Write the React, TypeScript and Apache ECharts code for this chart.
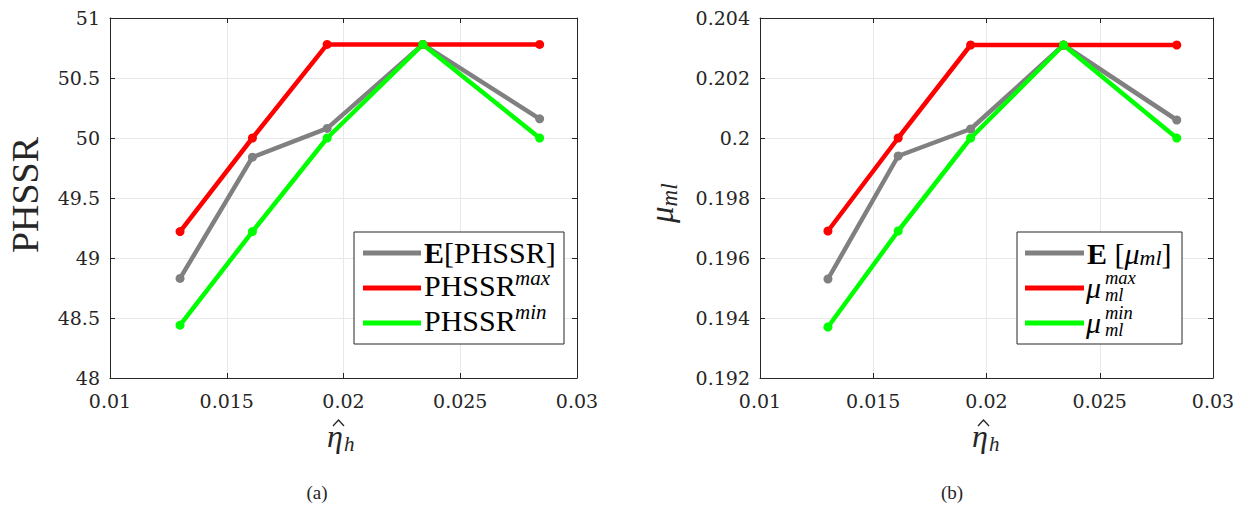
import React, { useEffect, useRef } from "react";
import * as echarts from "echarts";

// ---- data ----
const etaH = [0.013, 0.0161, 0.0193, 0.0234, 0.0284];
const phssrMean = [48.83, 49.84, 50.08, 50.78, 50.16];
const phssrMax = [49.22, 50.0, 50.78, 50.78, 50.78];
const phssrMin = [48.44, 49.22, 50.0, 50.78, 50.0];
const muMean = [0.1953, 0.1994, 0.2003, 0.2031, 0.2006];
const muMax = [0.1969, 0.2, 0.2031, 0.2031, 0.2031];
const muMin = [0.1937, 0.1969, 0.2, 0.2031, 0.2];

const xTickLabels = ["0.01", "0.015", "0.02", "0.025", "0.03"];
const leftTickLabels = ["48", "48.5", "49", "49.5", "50", "50.5", "51"];
const rightTickLabels = ["0.192", "0.194", "0.196", "0.198", "0.2", "0.202", "0.204"];

const GRAY = "#808080";
const RED = "#ff0000";
const GREEN = "#00ff00";
const AXIS = "#262626";
const GRID = "#e8e8e8";
const SERIF = "Liberation Serif, DejaVu Serif, serif";
const TICKFONT = "DejaVu Serif, Liberation Serif, serif";

const pairs = (ys: number[]) => etaH.map((x, i) => [x, ys[i]]);

function labelFor(labels: string[], min: number, step: number) {
  return (v: number) => labels[Math.round((v - min) / step)] ?? "";
}

export default function App() {
  const ref = useRef<HTMLDivElement>(null);
  useEffect(() => {
    if (!ref.current) return;
    const chart = echarts.init(ref.current, undefined, { renderer: "svg" });

    const mkX = (gridIndex: number, pos: "bottom" | "top") => ({
      type: "value",
      gridIndex,
      position: pos,
      min: 0.01,
      max: 0.03,
      interval: 0.005,
      axisLine: { show: true, onZero: false, lineStyle: { color: AXIS, width: 1 } },
      axisTick: { show: true, inside: true, length: 5, lineStyle: { color: AXIS } },
      axisLabel: {
        show: pos === "bottom",
        formatter: labelFor(xTickLabels, 0.01, 0.005),
        color: "#262626",
        fontFamily: TICKFONT,
        fontSize: 19,
        margin: 13,
      },
      splitLine: { show: pos === "bottom", lineStyle: { color: GRID, width: 1 } },
    });

    const mkY = (
      gridIndex: number,
      pos: "left" | "right",
      min: number,
      max: number,
      step: number,
      labels: string[]
    ) => ({
      type: "value",
      gridIndex,
      position: pos,
      min,
      max,
      interval: step,
      axisLine: { show: true, onZero: false, lineStyle: { color: AXIS, width: 1 } },
      axisTick: { show: true, inside: true, length: 5, lineStyle: { color: AXIS } },
      axisLabel: {
        show: pos === "left",
        formatter: labelFor(labels, min, step),
        color: "#262626",
        fontFamily: TICKFONT,
        fontSize: 19,
        margin: 10,
      },
      splitLine: { show: pos === "left", lineStyle: { color: GRID, width: 1 } },
    });

    const mkSeries = (name: string, data: number[][], color: string, idx: number) => ({
      type: "line",
      name,
      xAxisIndex: idx * 2,
      yAxisIndex: idx * 2,
      data,
      symbol: "circle",
      symbolSize: 9,
      showSymbol: true,
      lineStyle: { color, width: 4.5 },
      itemStyle: { color },
      emphasis: { disabled: true },
    });

    const txt = (
      x: number,
      y: number,
      text: string,
      fontSize: number,
      opts: any = {},
      extra: any = {}
    ) => ({
      type: "text",
      x,
      y,
      z: 100,
      ...extra,
      style: {
        text,
        fontFamily: SERIF,
        fontSize,
        fill: "#000",
        align: "left",
        verticalAlign: "middle",
        ...opts,
      },
    });

    const it = (size: number, extra: any = {}) => ({
      fontFamily: SERIF,
      fontStyle: "italic",
      fontSize: size,
      ...extra,
    });

    const legendLines = (x1: number, x2: number) =>
      [
        [253, GRAY],
        [288, RED],
        [323, GREEN],
      ].map(([y, c]) => ({
        type: "line",
        z: 100,
        shape: { x1, y1: y as number, x2, y2: y as number },
        style: { stroke: c as string, lineWidth: 5 },
      }));

    // x-axis title: eta with a hat, subscript h
    const etaTitle = (x: number) => [
      txt(x, 436, "{e|η}{s|h}", 32, {
        fill: "#262626",
        rich: {
          e: it(32, { fill: "#262626" }),
          s: it(21, { fill: "#262626", padding: [16, 0, 0, 1] }),
        },
      }),
      {
        type: "polyline",
        z: 100,
        shape: { points: [[x + 6, 426], [x + 11.5, 420], [x + 17, 426]] },
        style: { stroke: "#262626", lineWidth: 1.3, fill: "none" },
      },
    ];

    const option: any = {
      animation: false,
      backgroundColor: "#ffffff",
      grid: [
        { left: 110, top: 18, width: 467, height: 360 },
        { left: 760, top: 18, width: 453, height: 360 },
      ],
      xAxis: [mkX(0, "bottom"), mkX(0, "top"), mkX(1, "bottom"), mkX(1, "top")],
      yAxis: [
        mkY(0, "left", 48, 51, 0.5, leftTickLabels),
        mkY(0, "right", 48, 51, 0.5, leftTickLabels),
        mkY(1, "left", 0.192, 0.204, 0.002, rightTickLabels),
        mkY(1, "right", 0.192, 0.204, 0.002, rightTickLabels),
      ],
      series: [
        mkSeries("E[PHSSR]", pairs(phssrMean), GRAY, 0),
        mkSeries("PHSSR max", pairs(phssrMax), RED, 0),
        mkSeries("PHSSR min", pairs(phssrMin), GREEN, 0),
        mkSeries("E[mu_ml]", pairs(muMean), GRAY, 1),
        mkSeries("mu_ml max", pairs(muMax), RED, 1),
        mkSeries("mu_ml min", pairs(muMin), GREEN, 1),
      ],
      graphic: [
        // axis titles
        txt(25, 195, "PHSSR", 38, { align: "center", fill: "#262626" }, { rotation: Math.PI / 2 }),
        txt(
          662,
          223,
          "{m|μ}{s|ml}",
          33,
          {
            fill: "#262626",
            rich: {
              m: it(33, { fill: "#262626" }),
              s: it(23, { fill: "#262626", padding: [14, 0, 0, 0] }),
            },
          },
          { rotation: Math.PI / 2 }
        ),
        ...etaTitle(327),
        ...etaTitle(972),
        // left legend
        {
          type: "rect",
          z: 99,
          shape: { x: 354, y: 232, width: 210, height: 112 },
          style: { fill: "#fff", stroke: AXIS, lineWidth: 1 },
        },
        ...legendLines(363, 421),
        txt(424, 252, "{b|E}[PHSSR]", 30, {
          rich: { b: { fontFamily: SERIF, fontWeight: "bold", fontSize: 30, fill: "#000" } },
        }),
        txt(424, 285, "PHSSR", 30),
        txt(515, 277.5, "max", 21, { fontStyle: "italic" }),
        txt(424, 320, "PHSSR", 30),
        txt(515, 312, "min", 21, { fontStyle: "italic" }),
        // right legend
        {
          type: "rect",
          z: 99,
          shape: { x: 1017, y: 232, width: 165, height: 112 },
          style: { fill: "#fff", stroke: AXIS, lineWidth: 1 },
        },
        ...legendLines(1025, 1084),
        txt(1087, 253, "{b|E} [{m|μ}{s|ml}]", 30, {
          rich: {
            b: { fontFamily: SERIF, fontWeight: "bold", fontSize: 30 },
            m: it(30),
            s: it(22, { padding: [8, 0, 0, 0] }),
          },
        }),
        txt(1086, 287, "μ", 30, { fontStyle: "italic" }),
        txt(1105, 286.5, "max\nml", 18.5, { fontStyle: "italic", lineHeight: 17.5 }),
        txt(1086, 322, "μ", 30, { fontStyle: "italic" }),
        txt(1105, 321.5, "min\nml", 18.5, { fontStyle: "italic", lineHeight: 17.5 }),
        // sub-figure captions
        txt(317, 492, "(a)", 19, { align: "center", fill: "#262626" }),
        txt(952, 492, "(b)", 19, { align: "center", fill: "#262626" }),
      ],
    };

    chart.setOption(option);
    return () => chart.dispose();
  }, []);

  return (
    <div
      ref={ref}
      style={{ position: "absolute", left: 0, top: 0, width: 1244, height: 509, background: "#fff" }}
    />
  );
}
